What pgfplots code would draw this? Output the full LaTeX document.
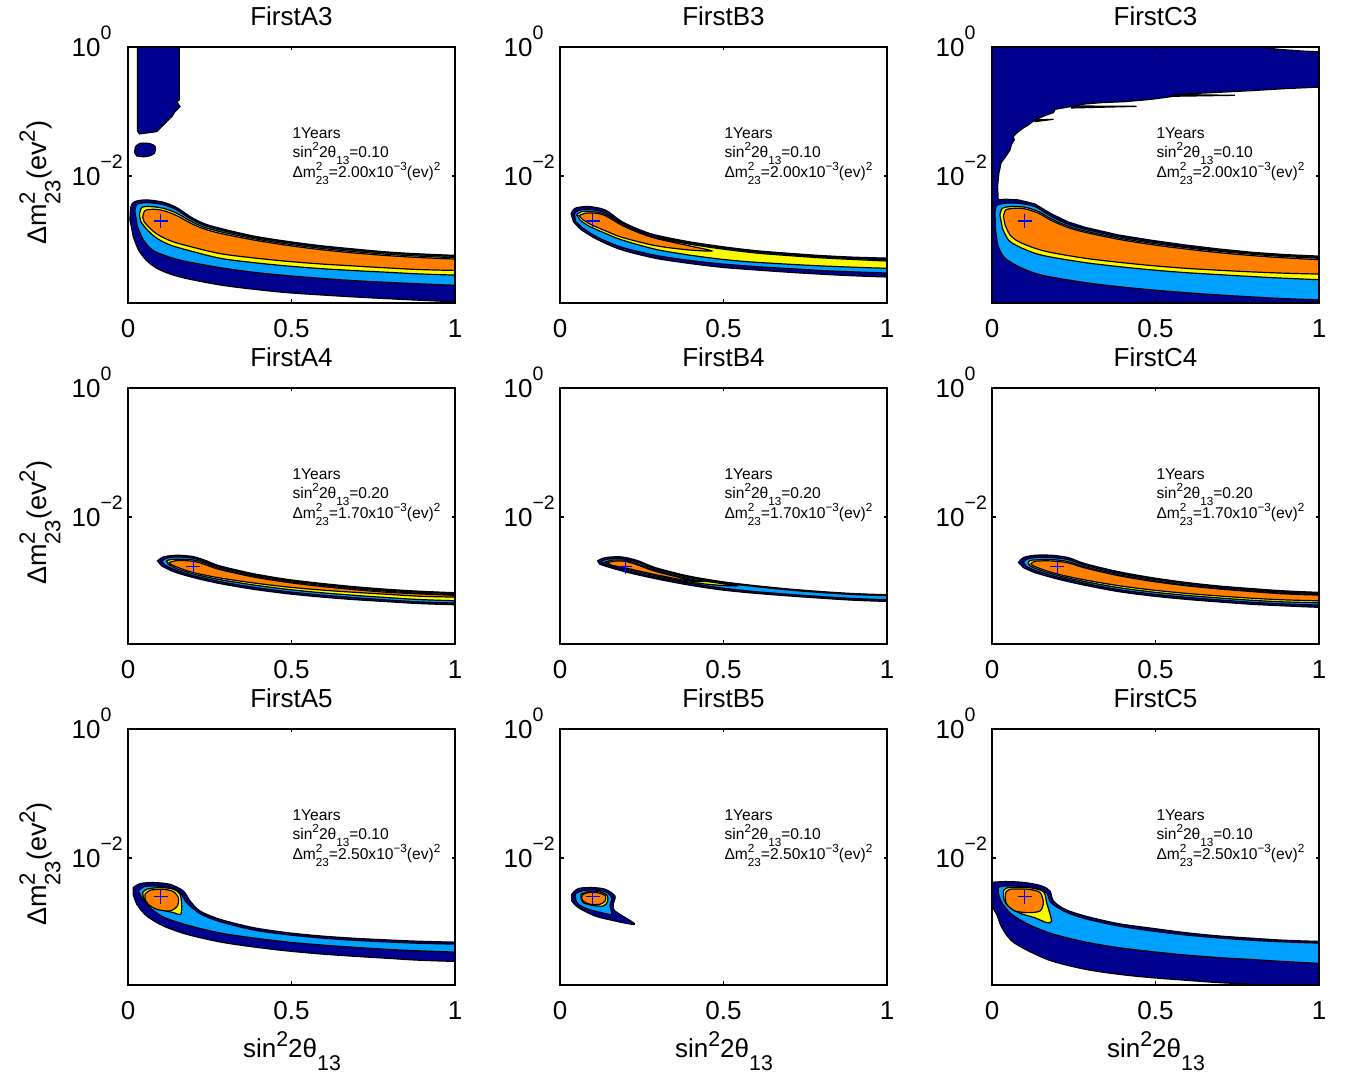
\documentclass[border=0pt]{standalone}
\usepackage{fontspec}
\setmainfont{Liberation Sans}
\usepackage{pgfplots}
\pgfplotsset{compat=1.18}
\definecolor{dblue}{RGB}{0,0,143}
\definecolor{lblue}{RGB}{0,160,255}
\definecolor{cyel}{RGB}{250,250,0}
\definecolor{corg}{RGB}{255,128,0}
\newcommand\sps[1]{\raisebox{0.4em}{\scalebox{0.75}{#1}}}
\newcommand\sbs[1]{\raisebox{-0.45em}{\scalebox{0.75}{#1}}}
\newcommand\stk[2]{\rlap{\sps{#1}}\sbs{#2}}
\newcommand\lsps[1]{\raisebox{0.45em}{\scalebox{0.82}{#1}}}
\newcommand\lsbs[1]{\raisebox{-0.5em}{\scalebox{0.82}{#1}}}
\newcommand\ysps[1]{\rlap{\raisebox{0.68em}{\scalebox{0.75}{#1}}}}
\newcommand\annot[2]{%
  \node[anchor=base west,inner sep=0pt,font=\fontsize{7.8}{9}\selectfont] at (rel axis cs:0.502,0.641) {1Years};
  \node[anchor=base west,inner sep=0pt,font=\fontsize{7.8}{9}\selectfont] at (rel axis cs:0.502,0.570) {sin\sps{2}2θ\sbs{13}=#1};
  \node[anchor=base west,inner sep=0pt,font=\fontsize{7.8}{9}\selectfont] at (rel axis cs:0.502,0.492) {Δm\stk{2}{23}=#2x10\sps{−3}(ev)\sps{2}};
}
\pgfplotsset{
  mypanel/.style={
    anchor=south west, scale only axis, width=163.5pt, height=128pt,
    xmin=0, xmax=1, ymin=1.07e-4, ymax=1,
    xtick={0,0.5,1}, xticklabels={0,0.5,1},
    ytick={0.01,1}, yticklabels={10\ysps{−2},10\ysps{0}},
    yminorticks=false,
    tick align=inside, major tick length=1.75pt,
    tick style={black, line width=0.6pt},
    axis line style={line width=0.75pt},
    axis on top,
    tick label style={font=\fontsize{13}{15}\selectfont},
    xticklabel style={yshift=-4.75pt},
    yticklabel style={anchor=base east, inner sep=0pt, xshift=-13.5pt, yshift=-5pt},
    title style={font=\fontsize{13}{15}\selectfont, at={(0.5,1)}, anchor=base, yshift=4.5pt},
  },
  reg/.style={draw=black, fill=#1, line width=0.6pt, smooth, tension=0.5},
  sreg/.style={draw=black, fill=#1, line width=0.6pt},
  bf/.style={only marks, mark=+, mark size=3.5pt, blue, mark options={line width=0.6pt}},
}
\begin{document}
\begin{tikzpicture}
\useasboundingbox (0,0) rectangle (674pt,540pt);

% ---------------- row 1 ----------------
\begin{axis}[ymode=log, mypanel, at={(64pt,388.5pt)}, title={FirstA3}]
\addplot[sreg=dblue] coordinates {(0.029,1.5) (0.157,1.5) (0.157,0.151) (0.149,0.142) (0.159,0.119) (0.144,0.0994) (0.134,0.0832) (0.118,0.0696) (0.108,0.0618) (0.098,0.0548) (0.088,0.0487) (0.035,0.0448) (0.029,0.05)} -- cycle;
\addplot[reg=dblue] coordinates {(0.023,0.0285) (0.037,0.0321) (0.067,0.0317) (0.083,0.0285) (0.081,0.0225) (0.057,0.0200) (0.027,0.0204) (0.020,0.0238)} -- cycle;
\addplot[reg=dblue] coordinates {(0.006,2.08e-3) (0.009,3.35e-3) (0.021,4.00e-3) (0.057,4.25e-3) (0.108,3.91e-3) (0.149,3.23e-3) (0.190,2.34e-3) (0.230,1.845e-3) (0.281,1.543e-3) (0.383,1.173e-3) (0.485,9.7e-4) (0.587,8.31e-4) (0.689,7.38e-4) (0.791,6.63e-4) (0.893,6.18e-4) (1.03,5.82e-4) (1.2,5.82e-4) (1.2,1.11e-4) (1.03,1.11e-4) (0.893,1.18e-4) (0.791,1.25e-4) (0.689,1.33e-4) (0.587,1.43e-4) (0.485,1.55e-4) (0.383,1.75e-4) (0.281,2.04e-4) (0.179,2.56e-4) (0.128,3.02e-4) (0.088,3.70e-4) (0.057,4.86e-4) (0.032,7.13e-4) (0.016,1.146e-3)} -- cycle;
\addplot[reg=lblue] coordinates {(0.021,2.80e-3) (0.027,3.59e-3) (0.057,3.86e-3) (0.108,3.59e-3) (0.149,2.97e-3) (0.190,2.18e-3) (0.230,1.74e-3) (0.281,1.454e-3) (0.383,1.119e-3) (0.485,9.26e-4) (0.587,7.93e-4) (0.689,7.04e-4) (0.791,6.40e-4) (0.893,5.96e-4) (1.03,5.62e-4) (1.2,5.62e-4) (1.2,2.00e-4) (1.03,2.00e-4) (0.893,2.12e-4) (0.791,2.24e-4) (0.689,2.38e-4) (0.587,2.59e-4) (0.485,2.85e-4) (0.383,3.21e-4) (0.281,3.79e-4) (0.179,4.70e-4) (0.128,5.49e-4) (0.077,6.96e-4) (0.047,1.017e-3) (0.029,1.64e-3)} -- cycle;
\addplot[reg=cyel] coordinates {(0.035,2.48e-3) (0.042,3.23e-3) (0.067,3.35e-3) (0.108,3.15e-3) (0.149,2.64e-3) (0.190,2.01e-3) (0.230,1.618e-3) (0.281,1.37e-3) (0.383,1.067e-3) (0.485,8.82e-4) (0.587,7.56e-4) (0.689,6.71e-4) (0.791,6.10e-4) (0.893,5.69e-4) (1.03,5.36e-4) (1.2,5.36e-4) (1.2,2.88e-4) (1.03,2.88e-4) (0.893,3.02e-4) (0.791,3.21e-4) (0.689,3.41e-4) (0.587,3.66e-4) (0.485,4.02e-4) (0.383,4.53e-4) (0.281,5.29e-4) (0.179,7.13e-4) (0.128,8.51e-4) (0.088,1.08e-3) (0.057,1.49e-3) (0.039,1.96e-3)} -- cycle;
\addplot[reg=corg] coordinates {(0.045,2.285e-3) (0.052,2.90e-3) (0.077,3.04e-3) (0.108,2.90e-3) (0.149,2.425e-3) (0.190,1.867e-3) (0.230,1.525e-3) (0.281,1.29e-3) (0.383,1.017e-3) (0.485,8.41e-4) (0.587,7.21e-4) (0.689,6.40e-4) (0.791,5.82e-4) (0.893,5.42e-4) (1.03,5.10e-4) (1.2,5.10e-4) (1.2,3.41e-4) (1.03,3.41e-4) (0.893,3.53e-4) (0.791,3.75e-4) (0.689,4.02e-4) (0.587,4.32e-4) (0.485,4.75e-4) (0.383,5.36e-4) (0.281,6.25e-4) (0.179,8.31e-4) (0.128,9.94e-4) (0.088,1.26e-3) (0.062,1.64e-3) (0.049,1.96e-3)} -- cycle;
\addplot[bf] coordinates {(0.1,2e-3)};
\annot{0.10}{2.00}
\end{axis}

\begin{axis}[ymode=log, mypanel, at={(280pt,388.5pt)}, title={FirstB3}]
\addplot[reg=dblue] coordinates {(0.034,2.575e-3) (0.046,3.15e-3) (0.087,3.35e-3) (0.138,2.97e-3) (0.189,1.96e-3) (0.240,1.49e-3) (0.291,1.216e-3) (0.392,9.59e-4) (0.494,8.03e-4) (0.596,6.96e-4) (0.698,6.32e-4) (0.800,5.82e-4) (0.902,5.49e-4) (1.03,5.29e-4) (1.2,5.29e-4) (1.2,2.69e-4) (1.03,2.69e-4) (0.902,2.82e-4) (0.800,2.99e-4) (0.698,3.21e-4) (0.596,3.49e-4) (0.494,3.83e-4) (0.392,4.42e-4) (0.291,5.29e-4) (0.189,7.13e-4) (0.117,1.017e-3) (0.066,1.454e-3) (0.041,1.96e-3)} -- cycle;
\addplot[reg=lblue] coordinates {(0.044,2.575e-3) (0.056,2.90e-3) (0.087,3.04e-3) (0.138,2.70e-3) (0.189,1.845e-3) (0.240,1.40e-3) (0.291,1.146e-3) (0.392,9.15e-4) (0.494,7.65e-4) (0.596,6.63e-4) (0.698,6.03e-4) (0.800,5.55e-4) (0.902,5.23e-4) (1.03,4.98e-4) (1.2,4.98e-4) (1.2,3.10e-4) (1.03,3.10e-4) (0.902,3.25e-4) (0.800,3.41e-4) (0.698,3.66e-4) (0.596,3.93e-4) (0.494,4.32e-4) (0.392,4.92e-4) (0.291,5.89e-4) (0.189,7.84e-4) (0.117,1.105e-3) (0.071,1.543e-3) (0.048,1.96e-3)} -- cycle;
\addplot[reg=cyel] coordinates {(0.051,2.48e-3) (0.066,2.80e-3) (0.097,2.80e-3) (0.138,2.545e-3) (0.189,1.78e-3) (0.240,1.353e-3) (0.291,1.105e-3) (0.392,8.82e-4) (0.494,7.38e-4) (0.596,6.40e-4) (0.698,5.82e-4) (0.800,5.36e-4) (0.902,5.05e-4) (1.03,4.75e-4) (1.2,4.75e-4) (1.2,3.66e-4) (1.03,3.66e-4) (0.800,4.02e-4) (0.596,4.59e-4) (0.494,5.10e-4) (0.392,5.96e-4) (0.291,7.30e-4) (0.189,1.017e-3) (0.138,1.29e-3) (0.087,1.68e-3) (0.061,2.08e-3)} -- cycle;
\addplot[reg=corg] coordinates {(0.058,2.40e-3) (0.076,2.64e-3) (0.107,2.64e-3) (0.138,2.425e-3) (0.189,1.717e-3) (0.240,1.32e-3) (0.291,1.08e-3) (0.392,8.31e-4) (0.464,6.87e-4) (0.392,7.13e-4) (0.291,8.31e-4) (0.189,1.119e-3) (0.138,1.418e-3) (0.097,1.74e-3) (0.071,2.08e-3)} -- cycle;
\addplot[bf] coordinates {(0.1,2e-3)};
\annot{0.10}{2.00}
\end{axis}

\begin{axis}[ymode=log, mypanel, at={(496pt,388.5pt)}, title={FirstC3}]
\addplot[fill=dblue, draw=none] coordinates {(-0.1,5e-5) (1.1,5e-5) (1.1,2) (-0.1,2)} -- cycle;
\addplot[sreg=white] coordinates {(0.019,4.25e-3) (0.040,4.35e-3) (0.081,4.25e-3) (0.131,3.68e-3) (0.182,2.575e-3) (0.233,1.935e-3) (0.284,1.60e-3) (0.386,1.216e-3) (0.488,1.005e-3) (0.590,8.51e-4) (0.692,7.38e-4) (0.794,6.55e-4) (0.896,6.03e-4) (1.03,5.62e-4) (1.03,0.2427) (0.896,0.226) (0.794,0.2104) (0.692,0.198) (0.590,0.1867) (0.549,0.170) (0.488,0.1545) (0.442,0.147) (0.407,0.142) (0.335,0.137) (0.284,0.1306) (0.264,0.1247) (0.223,0.1147) (0.193,0.108) (0.188,0.0959) (0.167,0.0883) (0.147,0.0802) (0.131,0.0738) (0.111,0.0618) (0.091,0.0535) (0.075,0.0459) (0.065,0.0407) (0.068,0.0362) (0.060,0.0313) (0.055,0.0253) (0.042,0.0200) (0.028,0.0161) (0.021,0.0110) (0.017,6.84e-3)} -- cycle;
\addplot[sreg=white] coordinates {(0.82,1.5) (1.05,1.5) (1.05,0.817) (0.947,0.867) (0.876,0.920) (0.82,1.0)} -- cycle;
\addplot[sreg=dblue] coordinates {(0.549,0.172) (0.743,0.178) (0.56,0.183)} -- cycle;
\addplot[sreg=dblue] coordinates {(0.244,0.1217) (0.442,0.120) (0.244,0.1133)} -- cycle;
\addplot[sreg=dblue] coordinates {(0.131,0.0738) (0.188,0.0756) (0.131,0.0696)} -- cycle;
\addplot[reg=lblue] coordinates {(0.009,2.64e-3) (0.014,3.47e-3) (0.040,3.77e-3) (0.081,3.77e-3) (0.131,3.35e-3) (0.182,2.34e-3) (0.233,1.78e-3) (0.284,1.49e-3) (0.386,1.146e-3) (0.488,9.48e-4) (0.590,8.03e-4) (0.692,7.04e-4) (0.794,6.32e-4) (0.896,5.82e-4) (1.03,5.42e-4) (1.2,5.42e-4) (1.2,1.19e-4) (1.03,1.19e-4) (0.896,1.25e-4) (0.794,1.33e-4) (0.692,1.43e-4) (0.590,1.55e-4) (0.488,1.71e-4) (0.386,1.92e-4) (0.284,2.22e-4) (0.182,2.69e-4) (0.131,3.10e-4) (0.081,3.93e-4) (0.040,5.29e-4) (0.019,8.03e-4) (0.011,1.454e-3)} -- cycle;
\addplot[reg=cyel] coordinates {(0.024,2.48e-3) (0.032,3.15e-3) (0.060,3.35e-3) (0.101,3.27e-3) (0.142,2.80e-3) (0.182,2.15e-3) (0.233,1.66e-3) (0.284,1.40e-3) (0.386,1.09e-3) (0.488,9.04e-4) (0.590,7.74e-4) (0.692,6.79e-4) (0.794,6.10e-4) (0.896,5.62e-4) (1.03,5.23e-4) (1.2,5.23e-4) (1.2,2.44e-4) (1.03,2.44e-4) (0.896,2.59e-4) (0.794,2.75e-4) (0.692,2.95e-4) (0.590,3.17e-4) (0.488,3.49e-4) (0.386,3.93e-4) (0.284,4.53e-4) (0.182,5.49e-4) (0.131,6.32e-4) (0.081,8.03e-4) (0.050,1.017e-3) (0.032,1.543e-3)} -- cycle;
\addplot[reg=corg] coordinates {(0.035,2.34e-3) (0.042,2.97e-3) (0.070,3.15e-3) (0.101,3.08e-3) (0.142,2.64e-3) (0.182,2.03e-3) (0.233,1.58e-3) (0.284,1.337e-3) (0.386,1.042e-3) (0.488,8.61e-4) (0.590,7.38e-4) (0.692,6.47e-4) (0.794,5.82e-4) (0.896,5.36e-4) (1.03,4.98e-4) (1.2,4.98e-4) (1.2,2.99e-4) (1.03,2.99e-4) (0.896,3.10e-4) (0.794,3.25e-4) (0.692,3.45e-4) (0.590,3.70e-4) (0.488,4.07e-4) (0.386,4.59e-4) (0.284,5.29e-4) (0.182,6.47e-4) (0.131,7.56e-4) (0.081,9.59e-4) (0.055,1.216e-3) (0.040,1.74e-3)} -- cycle;
\addplot[bf] coordinates {(0.1,2e-3)};
\annot{0.10}{2.00}
\end{axis}

% ---------------- row 2 ----------------
\begin{axis}[ymode=log, mypanel, at={(64pt,218pt)}, title={FirstA4}]
\addplot[reg=dblue] coordinates {(0.090,2.08e-3) (0.108,2.40e-3) (0.149,2.545e-3) (0.200,2.425e-3) (0.241,2.08e-3) (0.281,1.74e-3) (0.383,1.32e-3) (0.485,1.08e-3) (0.587,9.37e-4) (0.689,8.31e-4) (0.791,7.56e-4) (0.893,7.04e-4) (1.03,6.63e-4) (1.2,6.63e-4) (1.2,4.32e-4) (1.03,4.32e-4) (0.893,4.53e-4) (0.791,4.86e-4) (0.689,5.23e-4) (0.587,5.75e-4) (0.485,6.47e-4) (0.383,7.56e-4) (0.281,9.26e-4) (0.200,1.146e-3) (0.139,1.418e-3) (0.103,1.74e-3)} -- cycle;
\addplot[reg=lblue] coordinates {(0.103,2.08e-3) (0.118,2.285e-3) (0.149,2.40e-3) (0.200,2.285e-3) (0.241,1.96e-3) (0.281,1.66e-3) (0.383,1.26e-3) (0.485,1.042e-3) (0.587,9.04e-4) (0.689,8.03e-4) (0.791,7.30e-4) (0.893,6.79e-4) (1.03,6.40e-4) (1.2,6.40e-4) (1.2,4.59e-4) (1.03,4.59e-4) (0.893,4.81e-4) (0.791,5.17e-4) (0.689,5.62e-4) (0.587,6.18e-4) (0.485,6.96e-4) (0.383,8.13e-4) (0.281,9.94e-4) (0.200,1.23e-3) (0.144,1.51e-3) (0.113,1.80e-3)} -- cycle;
\addplot[reg=cyel] coordinates {(0.118,2.08e-3) (0.139,2.205e-3) (0.200,2.15e-3) (0.241,1.867e-3) (0.281,1.58e-3) (0.383,1.216e-3) (0.485,1.005e-3) (0.587,8.72e-4) (0.689,7.74e-4) (0.791,7.04e-4) (0.893,6.55e-4) (1.03,6.18e-4) (1.2,6.18e-4) (1.2,4.98e-4) (1.03,4.98e-4) (0.893,5.23e-4) (0.791,5.62e-4) (0.689,6.10e-4) (0.587,6.71e-4) (0.485,7.56e-4) (0.383,8.82e-4) (0.281,1.067e-3) (0.200,1.306e-3) (0.149,1.58e-3) (0.123,1.845e-3)} -- cycle;
\addplot[reg=corg] coordinates {(0.126,1.96e-3) (0.149,2.10e-3) (0.200,2.053e-3) (0.241,1.78e-3) (0.281,1.525e-3) (0.383,1.173e-3) (0.485,9.70e-4) (0.587,8.41e-4) (0.689,7.47e-4) (0.791,6.79e-4) (0.893,6.40e-4) (1.03,6.03e-4) (1.2,6.03e-4) (1.2,5.69e-4) (1.03,5.69e-4) (0.893,5.89e-4) (0.791,6.32e-4) (0.689,6.79e-4) (0.587,7.38e-4) (0.485,8.22e-4) (0.383,9.48e-4) (0.281,1.132e-3) (0.200,1.37e-3) (0.154,1.64e-3) (0.130,1.845e-3)} -- cycle;
\addplot[bf] coordinates {(0.2,1.7e-3)};
\annot{0.20}{1.70}
\end{axis}

\begin{axis}[ymode=log, mypanel, at={(280pt,218pt)}, title={FirstB4}]
\addplot[reg=dblue] coordinates {(0.115,2.08e-3) (0.138,2.34e-3) (0.189,2.40e-3) (0.240,2.08e-3) (0.291,1.64e-3) (0.392,1.216e-3) (0.494,9.94e-4) (0.596,8.61e-4) (0.698,7.65e-4) (0.800,6.96e-4) (0.902,6.47e-4) (1.03,6.18e-4) (1.2,6.18e-4) (1.2,4.86e-4) (1.03,4.86e-4) (0.902,5.10e-4) (0.800,5.49e-4) (0.698,5.96e-4) (0.596,6.55e-4) (0.494,7.38e-4) (0.392,8.82e-4) (0.291,1.105e-3) (0.209,1.37e-3) (0.153,1.64e-3) (0.122,1.845e-3)} -- cycle;
\addplot[reg=lblue] coordinates {(0.125,2.03e-3) (0.143,2.205e-3) (0.189,2.255e-3) (0.240,1.96e-3) (0.291,1.56e-3) (0.392,1.16e-3) (0.494,9.59e-4) (0.596,8.31e-4) (0.698,7.38e-4) (0.800,6.71e-4) (0.902,6.25e-4) (1.03,5.96e-4) (1.2,5.96e-4) (1.2,5.17e-4) (1.03,5.17e-4) (0.902,5.42e-4) (0.800,5.82e-4) (0.698,6.32e-4) (0.596,6.96e-4) (0.494,7.93e-4) (0.392,9.48e-4) (0.291,1.173e-3) (0.209,1.454e-3) (0.158,1.717e-3) (0.133,1.89e-3)} -- cycle;
\addplot[reg=cyel] coordinates {(0.136,1.98e-3) (0.158,2.13e-3) (0.199,2.13e-3) (0.240,1.845e-3) (0.291,1.49e-3) (0.392,1.105e-3) (0.474,9.59e-4) (0.535,8.72e-4) (0.535,8.51e-4) (0.474,8.82e-4) (0.392,9.83e-4) (0.291,1.23e-3) (0.209,1.525e-3) (0.153,1.80e-3)} -- cycle;
\addplot[reg=corg] coordinates {(0.143,1.935e-3) (0.163,2.053e-3) (0.199,2.053e-3) (0.240,1.78e-3) (0.291,1.436e-3) (0.392,1.067e-3) (0.433,9.94e-4) (0.392,1.017e-3) (0.291,1.275e-3) (0.209,1.58e-3) (0.158,1.78e-3)} -- cycle;
\addplot[bf] coordinates {(0.2,1.7e-3)};
\annot{0.20}{1.70}
\end{axis}

\begin{axis}[ymode=log, mypanel, at={(496pt,218pt)}, title={FirstC4}]
\addplot[reg=dblue] coordinates {(0.081,1.96e-3) (0.096,2.34e-3) (0.131,2.545e-3) (0.182,2.545e-3) (0.233,2.34e-3) (0.284,1.89e-3) (0.386,1.418e-3) (0.488,1.146e-3) (0.590,9.70e-4) (0.692,8.51e-4) (0.794,7.74e-4) (0.896,7.13e-4) (1.03,6.71e-4) (1.2,6.71e-4) (1.2,3.93e-4) (1.03,3.93e-4) (0.896,4.17e-4) (0.794,4.42e-4) (0.692,4.81e-4) (0.590,5.29e-4) (0.488,5.96e-4) (0.386,6.96e-4) (0.284,8.72e-4) (0.203,1.08e-3) (0.131,1.37e-3) (0.096,1.64e-3)} -- cycle;
\addplot[reg=lblue] coordinates {(0.096,1.96e-3) (0.106,2.205e-3) (0.131,2.34e-3) (0.182,2.34e-3) (0.233,2.18e-3) (0.284,1.78e-3) (0.386,1.337e-3) (0.488,1.09e-3) (0.590,9.26e-4) (0.692,8.13e-4) (0.794,7.38e-4) (0.896,6.79e-4) (1.03,6.47e-4) (1.2,6.47e-4) (1.2,4.27e-4) (1.03,4.27e-4) (0.896,4.48e-4) (0.794,4.75e-4) (0.692,5.17e-4) (0.590,5.69e-4) (0.488,6.40e-4) (0.386,7.47e-4) (0.284,9.37e-4) (0.203,1.16e-3) (0.137,1.454e-3) (0.106,1.70e-3)} -- cycle;
\addplot[reg=cyel] coordinates {(0.111,1.935e-3) (0.121,2.13e-3) (0.182,2.18e-3) (0.233,2.03e-3) (0.284,1.68e-3) (0.386,1.275e-3) (0.488,1.042e-3) (0.590,8.82e-4) (0.692,7.84e-4) (0.794,7.13e-4) (0.896,6.55e-4) (1.03,6.25e-4) (1.2,6.25e-4) (1.2,4.64e-4) (1.03,4.64e-4) (0.896,4.81e-4) (0.794,5.10e-4) (0.692,5.55e-4) (0.590,6.10e-4) (0.488,6.87e-4) (0.386,8.03e-4) (0.284,9.94e-4) (0.203,1.23e-3) (0.142,1.525e-3) (0.116,1.74e-3)} -- cycle;
\addplot[reg=corg] coordinates {(0.119,1.867e-3) (0.131,2.053e-3) (0.182,2.08e-3) (0.233,1.935e-3) (0.284,1.618e-3) (0.386,1.23e-3) (0.488,1.005e-3) (0.590,8.61e-4) (0.692,7.65e-4) (0.794,6.96e-4) (0.896,6.40e-4) (1.03,6.10e-4) (1.2,6.10e-4) (1.2,4.98e-4) (1.03,4.98e-4) (0.896,5.17e-4) (0.794,5.49e-4) (0.692,5.96e-4) (0.590,6.55e-4) (0.488,7.38e-4) (0.386,8.61e-4) (0.284,1.054e-3) (0.203,1.29e-3) (0.147,1.58e-3) (0.123,1.78e-3)} -- cycle;
\addplot[bf] coordinates {(0.2,1.7e-3)};
\annot{0.20}{1.70}
\end{axis}

% ---------------- row 3 ----------------
\begin{axis}[ymode=log, mypanel, at={(64pt,47.5pt)}, title={FirstA5}]
\addplot[reg=dblue] coordinates {(0.016,3.47e-3) (0.037,4.00e-3) (0.077,4.15e-3) (0.128,3.906e-3) (0.169,3.08e-3) (0.190,2.15e-3) (0.220,1.507e-3) (0.281,1.119e-3) (0.383,8.31e-4) (0.485,6.96e-4) (0.587,6.18e-4) (0.689,5.69e-4) (0.791,5.36e-4) (0.893,5.10e-4) (1.03,4.92e-4) (1.2,4.92e-4) (1.2,2.47e-4) (1.03,2.47e-4) (0.893,2.59e-4) (0.791,2.78e-4) (0.689,2.99e-4) (0.587,3.25e-4) (0.485,3.62e-4) (0.383,4.17e-4) (0.281,4.98e-4) (0.179,6.55e-4) (0.108,8.82e-4) (0.057,1.26e-3) (0.027,1.91e-3) (0.016,2.735e-3)} -- cycle;
\addplot[reg=lblue] coordinates {(0.032,3.08e-3) (0.047,3.55e-3) (0.077,3.68e-3) (0.128,3.47e-3) (0.159,2.90e-3) (0.179,2.03e-3) (0.220,1.37e-3) (0.281,1.03e-3) (0.383,7.65e-4) (0.485,6.47e-4) (0.587,5.75e-4) (0.689,5.29e-4) (0.791,4.98e-4) (0.893,4.75e-4) (1.03,4.59e-4) (1.2,4.59e-4) (1.2,3.45e-4) (1.03,3.45e-4) (0.893,3.62e-4) (0.791,3.83e-4) (0.689,4.12e-4) (0.587,4.48e-4) (0.485,4.98e-4) (0.383,5.75e-4) (0.281,6.87e-4) (0.179,9.15e-4) (0.108,1.216e-3) (0.067,1.70e-3) (0.042,2.425e-3)} -- cycle;
\addplot[reg=cyel] coordinates {(0.045,2.90e-3) (0.057,3.27e-3) (0.098,3.47e-3) (0.139,3.27e-3) (0.159,2.735e-3) (0.164,1.91e-3) (0.161,1.337e-3) (0.139,1.418e-3) (0.098,1.60e-3) (0.062,2.03e-3) (0.047,2.425e-3)} -- cycle;
\addplot[reg=corg] coordinates {(0.052,2.735e-3) (0.067,3.15e-3) (0.108,3.27e-3) (0.139,3.00e-3) (0.154,2.425e-3) (0.151,1.80e-3) (0.128,1.507e-3) (0.088,1.60e-3) (0.062,1.91e-3) (0.052,2.285e-3)} -- cycle;
\addplot[bf] coordinates {(0.1,2.5e-3)};
\annot{0.10}{2.50}
\end{axis}

\begin{axis}[ymode=log, mypanel, at={(280pt,47.5pt)}, title={FirstB5}]
\addplot[reg=dblue] coordinates {(0.036,2.735e-3) (0.056,3.35e-3) (0.097,3.47e-3) (0.138,3.27e-3) (0.168,2.575e-3) (0.163,1.91e-3) (0.168,1.507e-3) (0.224,9.94e-4) (0.219,9.37e-4) (0.168,1.054e-3) (0.107,1.26e-3) (0.056,1.70e-3) (0.036,2.15e-3)} -- cycle;
\addplot[reg=lblue] coordinates {(0.046,2.735e-3) (0.066,3.08e-3) (0.097,3.19e-3) (0.138,3.00e-3) (0.158,2.425e-3) (0.153,1.80e-3) (0.158,1.337e-3) (0.127,1.418e-3) (0.087,1.60e-3) (0.056,1.91e-3) (0.048,2.285e-3)} -- cycle;
\addplot[reg=cyel] coordinates {(0.064,2.735e-3) (0.082,2.97e-3) (0.117,3.00e-3) (0.143,2.67e-3) (0.146,2.15e-3) (0.133,1.80e-3) (0.097,1.845e-3) (0.071,2.03e-3) (0.064,2.37e-3)} -- cycle;
\addplot[reg=corg] coordinates {(0.068,2.64e-3) (0.082,2.87e-3) (0.112,2.90e-3) (0.138,2.605e-3) (0.138,2.15e-3) (0.122,1.91e-3) (0.092,1.91e-3) (0.073,2.10e-3) (0.066,2.37e-3)} -- cycle;
\addplot[bf] coordinates {(0.1,2.5e-3)};
\annot{0.10}{2.50}
\end{axis}

\begin{axis}[ymode=log, mypanel, at={(496pt,47.5pt)}, title={FirstC5}]
\addplot[reg=dblue] coordinates {(-0.01,4.15e-3) (0.040,4.30e-3) (0.101,4.15e-3) (0.152,3.68e-3) (0.177,3.08e-3) (0.188,2.15e-3) (0.223,1.60e-3) (0.284,1.26e-3) (0.386,9.59e-4) (0.488,8.13e-4) (0.590,6.96e-4) (0.692,6.18e-4) (0.794,5.69e-4) (0.896,5.29e-4) (1.03,5.05e-4) (1.2,5.05e-4) (1.2,9.7e-5) (1.03,9.7e-5) (0.896,1.01e-4) (0.794,1.10e-4) (0.692,1.165e-4) (0.590,1.27e-4) (0.488,1.39e-4) (0.386,1.57e-4) (0.284,1.88e-4) (0.182,2.52e-4) (0.111,3.62e-4) (0.060,5.17e-4) (0.030,8.31e-4) (0.014,1.337e-3) (-0.01,2.15e-3)} -- cycle;
\addplot[reg=lblue] coordinates {(0.019,3.47e-3) (0.040,3.68e-3) (0.101,3.59e-3) (0.152,3.19e-3) (0.170,2.735e-3) (0.180,2.03e-3) (0.223,1.47e-3) (0.284,1.146e-3) (0.386,8.82e-4) (0.488,7.38e-4) (0.590,6.40e-4) (0.692,5.75e-4) (0.794,5.29e-4) (0.896,4.98e-4) (1.03,4.75e-4) (1.2,4.75e-4) (1.2,2.30e-4) (1.03,2.30e-4) (0.896,2.47e-4) (0.794,2.66e-4) (0.692,2.85e-4) (0.590,3.13e-4) (0.488,3.53e-4) (0.386,4.07e-4) (0.284,4.98e-4) (0.182,6.71e-4) (0.111,9.37e-4) (0.060,1.337e-3) (0.030,2.03e-3) (0.019,2.90e-3)} -- cycle;
\addplot[reg=cyel] coordinates {(0.035,3.08e-3) (0.050,3.47e-3) (0.111,3.47e-3) (0.157,3.00e-3) (0.167,2.03e-3) (0.182,1.054e-3) (0.167,9.94e-4) (0.131,1.18e-3) (0.081,1.418e-3) (0.045,1.91e-3) (0.035,2.425e-3)} -- cycle;
\addplot[reg=corg] coordinates {(0.042,2.90e-3) (0.055,3.27e-3) (0.111,3.27e-3) (0.147,2.90e-3) (0.157,2.03e-3) (0.147,1.507e-3) (0.111,1.418e-3) (0.070,1.507e-3) (0.045,1.91e-3) (0.040,2.425e-3)} -- cycle;
\addplot[bf] coordinates {(0.1,2.5e-3)};
\annot{0.10}{2.50}
\end{axis}

% axis labels
\foreach \yy in {448.5pt,278.5pt,108pt}
  \node[rotate=90,font=\fontsize{13.5}{15}\selectfont] at (20pt,\yy) {Δm\rlap{\lsps{2}}\lsbs{23}(ev\lsps{2})};
\foreach \xx in {146pt,362pt,578pt}
  \node[anchor=base,font=\fontsize{13}{15}\selectfont] at (\xx,11pt) {sin\lsps{2}2θ\lsbs{13}};
\end{tikzpicture}
\end{document}
